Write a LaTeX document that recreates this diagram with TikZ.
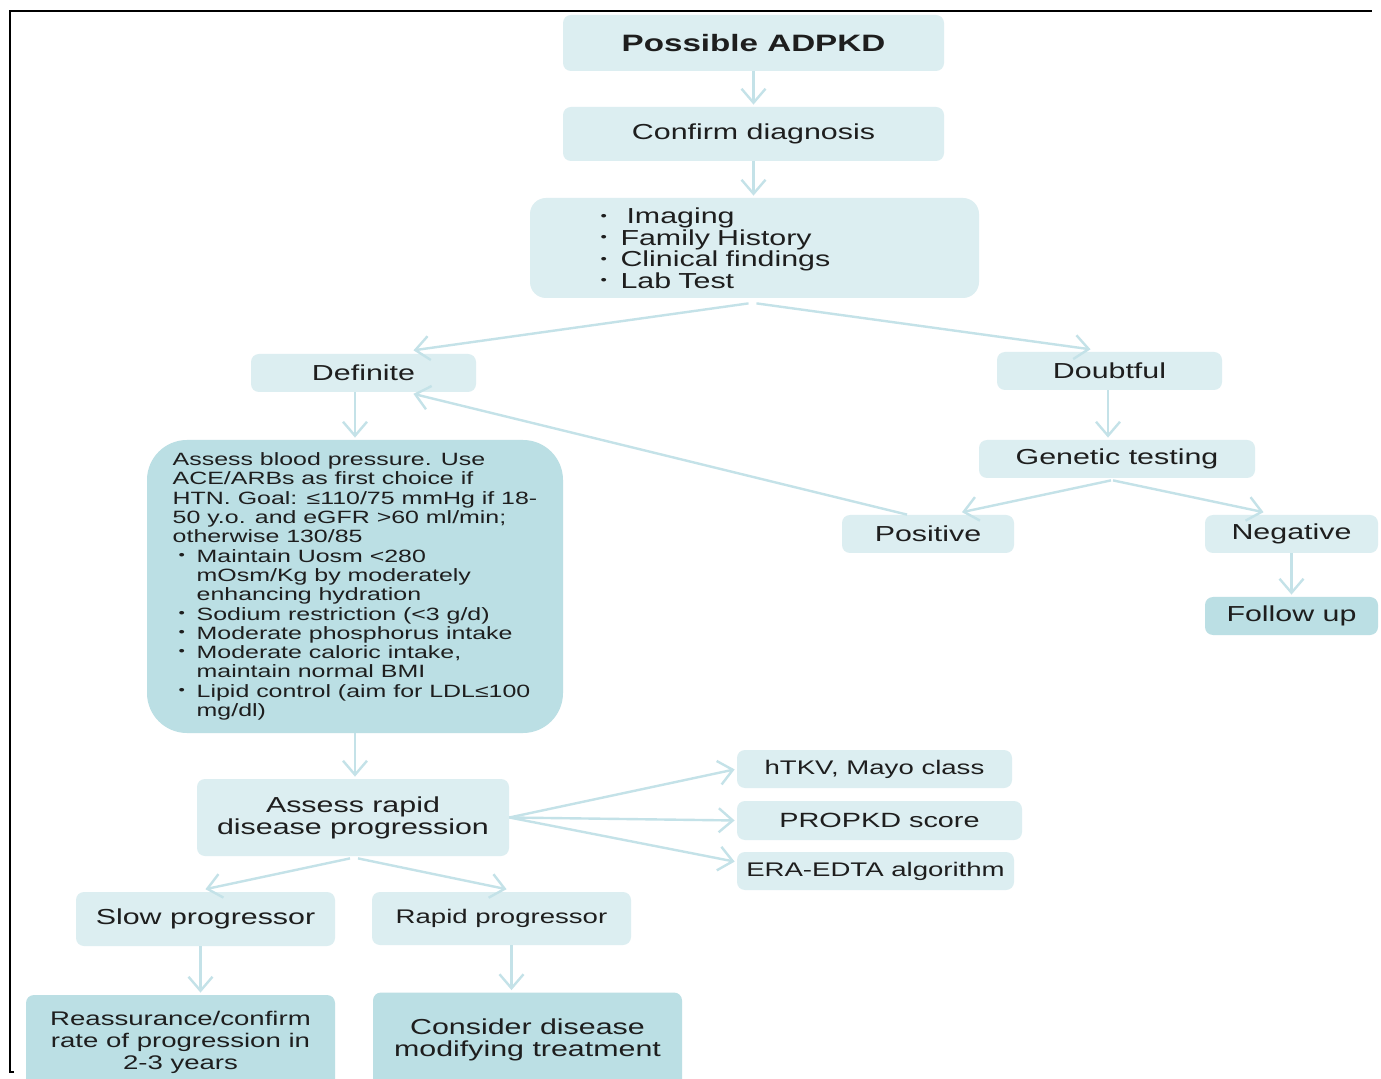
\documentclass[tikz,border=0pt]{standalone}
\usepackage{fontspec}
\setmainfont[FakeStretch=1.4]{Liberation Sans}
\usetikzlibrary{arrows.meta}

\definecolor{boxlight}{HTML}{DCEEF1}
\definecolor{boxdark}{HTML}{BBDFE4}
\definecolor{linkblue}{HTML}{C4E2E8}
\definecolor{textgray}{HTML}{1E1E1E}

\newcommand{\smallbullet}{\raisebox{0.3ex}{\fontsize{6.5}{6.5}\selectfont\textbullet}}
\newcommand{\critem}[1]{\makebox[11pt][l]{\hspace{1pt}\smallbullet}#1}
\newcommand{\bpitem}[1]{\makebox[12pt][l]{\hspace{3pt}\smallbullet}#1}
\newcommand{\bpcont}{\hspace*{12pt}}

\tikzset{
    box/.style={fill=boxlight, rounded corners=4pt, text=textgray, inner sep=0pt,
        align=center, font=\fontsize{10.85}{11}\selectfont},
    darkbox/.style={box, fill=boxdark},
    smalltext/.style={font=\fontsize{9.85}{11}\selectfont},
    link/.style={draw=linkblue, line width=1.2pt, shorten >=1pt,
        -{Straight Barb[length=7pt,width=12pt]}},
}

\begin{document}
\begin{tikzpicture}[x=0.5pt,y=-0.5pt]
    \path[use as bounding box, fill=white] (0,0) rectangle (1381,1079);
    \clip (0,0) rectangle (1381,1079);
    \draw[line width=0.75pt] (14,1072) -- (10,1072) -- (10,11) -- (1372,11);

    \node[box, minimum width=190.5pt, minimum height=28pt,
        font=\bfseries\fontsize{11.85}{12}\selectfont] (adpkd) at (753.5,43) {Possible ADPKD};
    \node[box, minimum width=190.5pt, minimum height=27pt] (confirm) at (753.5,134) {Confirm diagnosis};
    \node[box, minimum width=224.5pt, minimum height=50pt, rounded corners=8pt,
        text width=156pt, align=left, font=\fontsize{10.85}{10.75}\selectfont] (criteria) at (754.5,248)
        {\critem{\hspace{3pt}Imaging}\\ \critem{Family History}\\ \critem{Clinical findings}\\ \critem{Lab Test}};

    \node[box, minimum width=112.5pt, minimum height=19pt] (definite) at (363.5,373) {Definite};
    \node[box, minimum width=112.5pt, minimum height=19pt] (doubtful) at (1109.5,371) {Doubtful};
    \node[box, minimum width=138pt, minimum height=19pt] (genetic) at (1117,459) {Genetic testing};
    \node[box, minimum width=86pt, minimum height=19pt] (positive) at (928,534) {Positive};
    \node[box, minimum width=86.5pt, minimum height=19pt] (negative) at (1291.5,534) {Negative};
    \node[darkbox, minimum width=86.5pt, minimum height=19pt] (followup) at (1291.5,616) {Follow up};

    \node[darkbox, minimum width=208pt, minimum height=146.5pt, rounded corners=20pt,
        align=left, font=\fontsize{8.9}{9.65}\selectfont] (bp) at (355,586.5)
        {Assess blood pressure. Use\\
         ACE/ARBs as first choice if\\
         HTN. Goal: ≤110/75 mmHg if 18-\\
         50 y.o. and eGFR >60 ml/min;\\
         otherwise 130/85\\
         \bpitem{Maintain Uosm <280}\\
         \bpcont mOsm/Kg by moderately\\
         \bpcont enhancing hydration\\
         \bpitem{Sodium restriction (<3 g/d)}\\
         \bpitem{Moderate phosphorus intake}\\
         \bpitem{Moderate caloric intake,}\\
         \bpcont maintain normal BMI\\
         \bpitem{Lipid control (aim for LDL≤100}\\
         \bpcont mg/dl)};

    \node[box, minimum width=156pt, minimum height=38.5pt] (assess) at (353,817.5) {Assess rapid\\disease progression};
    \node[box, smalltext, minimum width=137.5pt, minimum height=19pt] (htkv) at (874.5,769) {hTKV, Mayo class};
    \node[box, minimum width=142.5pt, minimum height=19.5pt,
        font=\fontsize{10.3}{11}\selectfont] (propkd) at (879.5,820.5) {PROPKD score};
    \node[box, smalltext, minimum width=138.5pt, minimum height=19pt] (era) at (875.5,871) {ERA-EDTA algorithm};

    \node[box, minimum width=129.5pt, minimum height=27pt] (slow) at (205.5,919) {Slow progressor};
    \node[box, smalltext, minimum width=129.5pt, minimum height=26.5pt] (rapidprog) at (501.5,918.5) {Rapid progressor};
    \node[darkbox, smalltext, minimum width=154.5pt, minimum height=47.5pt] (reassure) at (180.5,1042.5)
        {Reassurance/confirm\\rate of progression in\\2-3 years};
    \node[darkbox, minimum width=154.5pt, minimum height=47.5pt] (consider) at (527.5,1040)
        {Consider disease\\modifying treatment};

    \draw[link] (adpkd) -- (confirm);
    \draw[link] (confirm.south) -- (confirm.south |- criteria.north);
    \draw[link] ([xshift=-3pt,yshift=-2.5pt]criteria.south) -- ([xshift=24pt,yshift=1.5pt]definite.north);
    \draw[link] ([xshift=1pt,yshift=-2.5pt]criteria.south) -- ([xshift=-8.5pt,yshift=1pt]doubtful.north);
    \draw[link] (bp.north |- definite.south) -- (bp.north);
    \draw[link] ([xshift=-0.75pt]doubtful.south) -- ([xshift=-0.75pt]doubtful.south |- genetic.north);
    \draw[link] ([xshift=-3pt,yshift=-1pt]genetic.south) -- ([xshift=16pt,yshift=1pt]positive.north);
    \draw[link] ([xshift=-2pt,yshift=-1pt]genetic.south) -- ([xshift=-13pt,yshift=1pt]negative.north);
    \draw[link] ([xshift=-10.5pt]positive.north) -- ([xshift=24pt,yshift=-0.5pt]definite.south);
    \draw[link] (negative) -- (followup);
    \draw[link] (bp.south) -- (bp.south |- assess.north);
    \draw[link] (assess.east) -- (htkv.west);
    \draw[link] (assess.east) -- (propkd.west);
    \draw[link] (assess.east) -- ([yshift=4.5pt]era.west);
    \draw[link] ([xshift=-1.5pt,yshift=-1pt]assess.south) -- ([xshift=-1pt,yshift=1pt]slow.north);
    \draw[link] ([xshift=2.5pt,yshift=-1pt]assess.south) -- ([xshift=3.5pt,yshift=1pt]rapidprog.north);
    \draw[link] ([xshift=-2.5pt]slow.south) -- ([xshift=-2.5pt]slow.south |- reassure.north);
    \draw[link] ([xshift=5pt]rapidprog.south) -- ([xshift=5pt]rapidprog.south |- consider.north);
\end{tikzpicture}
\end{document}
